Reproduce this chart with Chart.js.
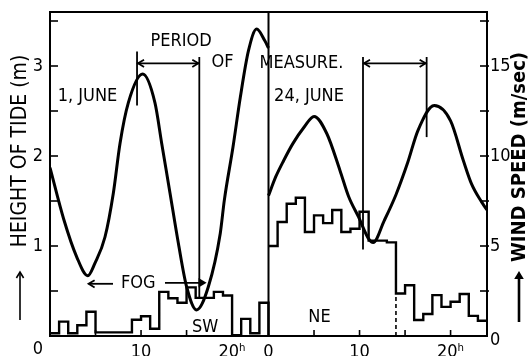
<!DOCTYPE html>
<html><head><meta charset="utf-8">
<script src="https://cdn.jsdelivr.net/npm/chart.js@4.4.1/dist/chart.umd.min.js"></script>
<style>html,body{margin:0;padding:0;background:#fff;overflow:hidden}#wrap{width:528px;height:356px}</style>
</head><body><div id="wrap"><canvas id="c" width="528" height="356"></canvas></div>
<script>
// Tide height (m) on 1 June (hours 0-24) and 24 June (hours 24-48 on the shared axis)
const tideDay1Hours = [0, 1.5, 2.93, 4.15, 4.94, 6.04, 6.96, 7.69, 8.6, 10.18, 11.53, 12.27, 13.18, 14.1, 15.0, 16.1, 17.4, 18.7, 19.15, 20.1, 20.9, 21.8, 22.7, 23.6, 24];
const tideDay1Heights = [1.87, 1.30, 0.88, 0.67, 0.81, 1.10, 1.59, 2.14, 2.59, 2.91, 2.59, 2.14, 1.59, 1.03, 0.55, 0.29, 0.55, 1.14, 1.51, 2.10, 2.65, 3.17, 3.41, 3.28, 3.20];
const tideDay2Hours = [24, 24.8, 25.67, 26.69, 27.9, 29.0, 30.4, 31.85, 32.8, 33.9, 35.0, 35.5, 36.7, 38.0, 39.3, 40.4, 42.2, 44.0, 45.4, 46.3, 47.4, 47.8, 48];
const tideDay2Heights = [1.56, 1.77, 1.95, 2.14, 2.32, 2.44, 2.25, 1.84, 1.55, 1.32, 1.08, 1.04, 1.28, 1.57, 1.93, 2.28, 2.56, 2.39, 1.95, 1.69, 1.49, 1.43, 1.40];
// Hourly wind speed (m/sec)
const windDay1Speeds = [0.15, 0.8, 0.15, 0.6, 1.35, 0.2, 0.2, 0.2, 0.2, 0.9, 1.1, 0.4, 2.45, 2.1, 1.85, 2.7, 2.12, 2.12, 2.45, 2.25, 0.05, 0.95, 0.15, 1.85];
const windDay2Speeds = [5.0, 6.33, 7.35, 7.68, 5.78, 6.7, 6.27, 7.0, 5.78, 5.96, 6.9, 5.3, 5.3, 5.2, 2.36, 2.82, 0.89, 1.22, 2.27, 1.62, 1.9, 2.33, 1.12, 0.85];
// Axis ticks
const hourTickValues = [10, 20, 24, 34, 44];
const hourTickLabels = ['10', '20ʰ', '0', '10', '20ʰ'];
const hourMinorTicks = [5, 10, 15, 20, 29, 34, 39, 44];
const tideTickValues = [0, 1, 2, 3];
const tideMinorTicks = [0.5, 1, 1.5, 2, 2.5, 3, 3.5];
const windTickValues = [0, 5, 10, 15];
const windMinorTicks = [2.5, 5, 7.5, 10, 12.5, 15, 17.5];
// Annotations (hour, tide height)
const periodSpans = [[9.56, 16.4], [34.38, 41.37]];
const periodArrowHeight = 3.03;
const periodLines = [[9.56, 2.56, 3.16], [16.4, 0.42, 3.1], [34.38, 0.96, 3.1], [41.37, 2.21, 3.1]];
const fogSpan = [4.24, 6.92, 12.63, 17.2];
const fogHeight = 0.58;
const dashedStep = [38, 0, 2.36]; // hour, wind from, wind to
const textNotes = [
  ['PERIOD', 14.4, 3.27], ['OF', 18.95, 3.04], ['MEASURE.', 27.62, 3.03],
  ['1, JUNE', 4.12, 2.66], ['24, JUNE', 28.45, 2.66],
  ['FOG', 9.7, 0.58], ['SW', 17.03, 0.10], ['NE', 29.6, 0.21]
];

const FONT = '"DejaVu Sans Condensed", "Liberation Sans Narrow", "DejaVu Sans", sans-serif';

const pts = (xs, ys) => xs.map((x, i) => ({x: x, y: ys[i]}));
const steps = (offset, vals) => vals.map((v, k) => ({x: offset + k, y: v})).concat([{x: offset + vals.length, y: offset === 0 ? 0 : vals[vals.length - 1]}]);

const tideStyle = {borderColor: '#000', borderWidth: 3, pointRadius: 0, fill: false, cubicInterpolationMode: 'monotone', yAxisID: 'y'};
const windStyle = {borderColor: '#000', borderWidth: 2.4, pointRadius: 0, fill: false, stepped: true, yAxisID: 'y2'};

function head(ctx, x, y, dir, size, filled) {
  ctx.beginPath();
  if (dir === 'r') { ctx.moveTo(x - size, y - size * 0.6); ctx.lineTo(x, y); ctx.lineTo(x - size, y + size * 0.6); }
  if (dir === 'l') { ctx.moveTo(x + size, y - size * 0.6); ctx.lineTo(x, y); ctx.lineTo(x + size, y + size * 0.6); }
  if (dir === 'u') { ctx.moveTo(x - size * 0.6, y + size); ctx.lineTo(x, y); ctx.lineTo(x + size * 0.6, y + size); }
  if (filled) { ctx.closePath(); ctx.fill(); } else { ctx.stroke(); }
}
function line(ctx, x1, y1, x2, y2) { ctx.beginPath(); ctx.moveTo(x1, y1); ctx.lineTo(x2, y2); ctx.stroke(); }

const decor = {
  id: 'decor',
  afterDatasetsDraw(chart) {
    const ctx = chart.ctx, a = chart.chartArea;
    const X = chart.scales.x, Y = chart.scales.y, W = chart.scales.y2;
    ctx.save();
    ctx.strokeStyle = '#000'; ctx.fillStyle = '#000'; ctx.lineCap = 'butt';
    // frame and day divider
    ctx.lineWidth = 2;
    ctx.strokeRect(a.left, a.top, a.right - a.left, a.bottom - a.top);
    const xd = X.getPixelForValue(24);
    line(ctx, xd, a.top, xd, a.bottom);
    // inward ticks
    ctx.lineWidth = 1.6;
    tideMinorTicks.forEach(v => { const y = Y.getPixelForValue(v); line(ctx, a.left, y, a.left + 8, y); });
    windMinorTicks.forEach(v => { const y = W.getPixelForValue(v); line(ctx, a.right - 7, y, a.right + 2, y); });
    hourMinorTicks.forEach(v => { const x = X.getPixelForValue(v); line(ctx, x, a.bottom, x, a.bottom - 6); });
    // period of measure lines and arrows
    ctx.lineWidth = 1.8;
    periodLines.forEach(([t, h1, h2]) => { const x = X.getPixelForValue(t); line(ctx, x, Y.getPixelForValue(h1), x, Y.getPixelForValue(h2)); });
    const yp = Y.getPixelForValue(periodArrowHeight);
    periodSpans.forEach(([t1, t2]) => {
      const x1 = X.getPixelForValue(t1), x2 = X.getPixelForValue(t2);
      line(ctx, x1, yp, x2, yp);
      head(ctx, x1 + 1, yp, 'l', 6, false); head(ctx, x2 - 1, yp, 'r', 6, false);
    });
    // fog arrows
    const yf = Y.getPixelForValue(fogHeight);
    const f0 = X.getPixelForValue(fogSpan[0]), f1 = X.getPixelForValue(fogSpan[1]);
    const f2 = X.getPixelForValue(fogSpan[2]), f3 = X.getPixelForValue(fogSpan[3]);
    line(ctx, f0, yf, f1, yf); head(ctx, f0, yf, 'l', 6, false);
    line(ctx, f2, yf - 1, f3 - 4, yf - 1); head(ctx, f3, yf - 1, 'r', 8, true);
    // dashed step edge
    ctx.setLineDash([4, 3]); ctx.lineWidth = 1.6;
    const xs = X.getPixelForValue(dashedStep[0]);
    line(ctx, xs, W.getPixelForValue(dashedStep[1]), xs, W.getPixelForValue(dashedStep[2]));
    ctx.setLineDash([]);
    // notes
    ctx.textAlign = 'center'; ctx.textBaseline = 'middle';
    ctx.font = '18px ' + FONT;
    textNotes.forEach(([s, t, h]) => ctx.fillText(s, X.getPixelForValue(t), Y.getPixelForValue(h)));
    // axis titles
    ctx.font = '21px ' + FONT;
    ctx.save(); ctx.translate(21, 151); ctx.rotate(-Math.PI / 2); ctx.fillText('HEIGHT OF TIDE (m)', 0, 0); ctx.restore();
    ctx.font = 'bold 20px ' + FONT;
    ctx.save(); ctx.translate(520, 157); ctx.rotate(-Math.PI / 2); ctx.fillText('WIND SPEED (m/sec)', 0, 0); ctx.restore();
    ctx.lineWidth = 1.6; line(ctx, 20, 320, 20, 273); head(ctx, 20, 272, 'u', 6, false);
    ctx.lineWidth = 2.6; line(ctx, 519, 322, 519, 278); head(ctx, 519, 271, 'u', 8, true);
    ctx.restore();
  }
};

const noPad = s => { s.paddingTop = 0; s.paddingBottom = 0; s.paddingLeft = 0; s.paddingRight = 0; };

new Chart(document.getElementById('c'), {
  type: 'line',
  data: {datasets: [
    Object.assign({data: pts(tideDay1Hours, tideDay1Heights)}, tideStyle),
    Object.assign({data: pts(tideDay2Hours, tideDay2Heights)}, tideStyle),
    Object.assign({data: steps(0, windDay1Speeds)}, windStyle),
    Object.assign({data: steps(24, windDay2Speeds)}, windStyle)
  ]},
  options: {
    responsive: false, animation: false, devicePixelRatio: 1,
    layout: {padding: {top: 12, left: 0, right: 0, bottom: 0}},
    plugins: {legend: {display: false}, tooltip: {enabled: false}, title: {display: false}},
    scales: {
      x: {type: 'linear', min: 0, max: 48,
        grid: {display: false, drawTicks: false}, border: {display: false},
        afterBuildTicks: s => { s.ticks = hourTickValues.map(v => ({value: v})); },
        afterFit: s => { s.height = 20; noPad(s); },
        ticks: {autoSkip: false, maxRotation: 0, padding: 6, color: '#000', font: {family: FONT, size: 18},
          callback: v => hourTickLabels[hourTickValues.indexOf(v)]}},
      y: {position: 'left', min: 0, max: 3.6,
        grid: {display: false, drawTicks: false}, border: {display: false},
        afterBuildTicks: s => { s.ticks = tideTickValues.map(v => ({value: v})); },
        afterFit: s => { s.width = 50; noPad(s); },
        ticks: {padding: 7, color: '#000', font: {family: FONT, size: 18, lineHeight: 1.45},
          callback: v => v === 0 ? ['', '0'] : String(v)}},
      y2: {position: 'right', min: 0, max: 18,
        grid: {display: false, drawTicks: false}, border: {display: false},
        afterBuildTicks: s => { s.ticks = windTickValues.map(v => ({value: v})); },
        afterFit: s => { s.width = 41; noPad(s); },
        ticks: {padding: 3, color: '#000', font: {family: FONT, size: 18, lineHeight: 0.5},
          callback: v => v === 0 ? ['', '0'] : String(v)}}
    }
  },
  plugins: [decor]
});
</script></body></html>
